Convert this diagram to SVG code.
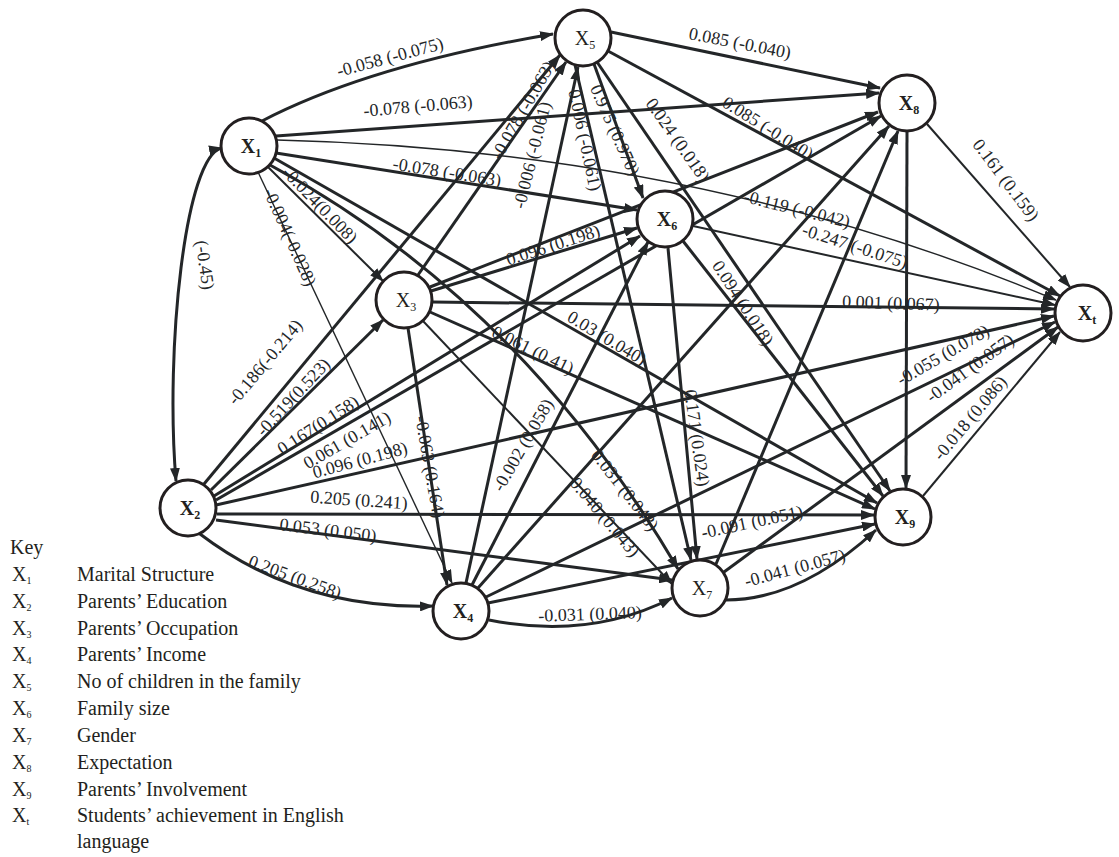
<svg xmlns="http://www.w3.org/2000/svg" width="1119" height="857" viewBox="0 0 1119 857">
<style>
.e{fill:none;stroke:#232628;stroke-width:3;marker-end:url(#ah)}
.t{stroke-width:1.4}
.m{stroke-width:2}
.lbl{font-family:"Liberation Serif",serif;font-size:18px;fill:#232628;text-anchor:middle;dominant-baseline:central}
.node circle{fill:#fff;stroke:#231f20;stroke-width:3}
.nl{font-family:"Liberation Serif",serif;font-size:20px;fill:#231f20;text-anchor:middle}
.b{font-weight:bold}
.key{font-family:"Liberation Serif",serif;font-size:20px;fill:#231f20}
</style>
<defs>
<marker id="ah" viewBox="0 0 14 10" refX="13" refY="5" markerWidth="14" markerHeight="10" markerUnits="userSpaceOnUse" orient="auto-start-reverse">
<path d="M0,0 L14,5 L0,10 z" fill="#232628"/>
</marker>
</defs>
<rect width="1119" height="857" fill="#fff"/>
<g id="connectors">
<path class="e" d="M262,121 Q370,65 553,34"/>
<path class="e" d="M276,136 L879,93"/>
<path class="e t" d="M277,140 Q700,150 1056,300"/>
<path class="e" d="M276,153 L637,210"/>
<path class="e" d="M274,158 L877,503"/>
<path class="e" d="M270,165 Q520,300 678,569"/>
<path class="e m" d="M267,166 L383,281"/>
<path class="e t" d="M258,172 L452,583"/>
<path class="e" d="M222,148 C185,155 165,350 176,481" marker-start="url(#ah)"/>
<path class="e" d="M204,484 L560,55"/>
<path class="e" d="M211,490 L383,320"/>
<path class="e" d="M214,496 L640,236"/>
<path class="e" d="M216,500 L881,116"/>
<path class="e" d="M216,505 L1054,316"/>
<path class="e" d="M217,514 L874,515"/>
<path class="e" d="M216,520 L672,580"/>
<path class="e" d="M200,534 Q300,610 433,606"/>
<path class="e" d="M418,275 L566,62"/>
<path class="e" d="M430,287 L878,112"/>
<path class="e" d="M431,291 L637,228"/>
<path class="e" d="M432,302 L1054,309"/>
<path class="e" d="M430,312 L875,509"/>
<path class="e m" d="M423,321 L672,584"/>
<path class="e" d="M408,328 L447,585"/>
<path class="e" d="M466,583 L578,67"/>
<path class="e" d="M472,585 L648,242"/>
<path class="e" d="M478,588 L889,126"/>
<path class="e" d="M486,597 L1055,322"/>
<path class="e" d="M488,603 L875,524"/>
<path class="e" d="M489,620 Q590,640 672,598"/>
<path class="e" d="M611,32 L880,88"/>
<path class="e" d="M608,51 L1060,296"/>
<path class="e" d="M594,64 L643,198"/>
<path class="e" d="M575,65 L691,560"/>
<path class="e" d="M597,62 L890,491"/>
<path class="e m" d="M693,226 L1055,305"/>
<path class="e" d="M683,241 L883,496"/>
<path class="e" d="M668,248 L697,559"/>
<path class="e" d="M716,564 L898,131"/>
<path class="e" d="M724,572 L1058,327"/>
<path class="e" d="M726,600 Q800,600 876,530"/>
<path class="e m" d="M927,124 L1070,287"/>
<path class="e" d="M907,132 L906,488"/>
<path class="e m" d="M923,496 L1060,332"/>
</g>
<g id="edge-labels" class="lbl">
<text transform="translate(390,57) rotate(-15)">-0.058 (-0.075)</text>
<text transform="translate(418,106) rotate(-5)">-0.078 (-0.063)</text>
<text transform="translate(447,172) rotate(9)">-0.078 (-0.063)</text>
<text transform="translate(320,205) rotate(46)">-0.024(0.008)</text>
<text transform="translate(290,237) rotate(66)">-0.004(-0.028)</text>
<text transform="translate(205,265) rotate(82)">(-0.45)</text>
<text transform="translate(265,362) rotate(-50)">-0.186(-0.214)</text>
<text transform="translate(293,397) rotate(-47)">-0.519(0.523)</text>
<text transform="translate(318,425) rotate(-33)">0.167(0.158)</text>
<text transform="translate(347,440) rotate(-30)">0.061 (0.141)</text>
<text transform="translate(360,460) rotate(-15)">0.096 (0.198)</text>
<text transform="translate(359,500) rotate(4)">0.205 (0.241)</text>
<text transform="translate(328,530) rotate(7)">0.053 (0.050)</text>
<text transform="translate(295,577) rotate(20)">0.205 (0.258)</text>
<text transform="translate(523,110) rotate(-60)">-0.078 (-0.063)</text>
<text transform="translate(532,155) rotate(-76)">-0.006 (-0.061)</text>
<text transform="translate(585,140) rotate(78)">0.006 (-0.061)</text>
<text transform="translate(615,130) rotate(66)">0.975 (0.970)</text>
<text transform="translate(678,140) rotate(55)">0.024 (0.018)</text>
<text transform="translate(740,43) rotate(11)">0.085 (-0.040)</text>
<text transform="translate(768,128) rotate(32)">0.085 (-0.040)</text>
<text transform="translate(797,209) rotate(14)">-0.119 (-0.042)</text>
<text transform="translate(855,246) rotate(18)">-0.247 (-0.075)</text>
<text transform="translate(891,303) rotate(2)">0.001 (0.067)</text>
<text transform="translate(743,303) rotate(57)">0.094 (0.018)</text>
<text transform="translate(697,438) rotate(82)">0.171 (0.024)</text>
<text transform="translate(607,338) rotate(31)">0.03  (0.040)</text>
<text transform="translate(533,350) rotate(26)">0.061 (0.41)</text>
<text transform="translate(553,245) rotate(-18)">0.096 (0.198)</text>
<text transform="translate(430,467) rotate(80)">-0.063 (0.164)</text>
<text transform="translate(523,445) rotate(-60)">-0.002 (0.058)</text>
<text transform="translate(625,490) rotate(52)">0.031 (0.048)</text>
<text transform="translate(605,517) rotate(50)">0.040 (0.043)</text>
<text transform="translate(590,614) rotate(-2)">-0.031 (0.040)</text>
<text transform="translate(752,522) rotate(-12)">-0.091 (0.051)</text>
<text transform="translate(795,568) rotate(-15)">-0.041 (0.057)</text>
<text transform="translate(943,355) rotate(-30)">-0.055 (0.078)</text>
<text transform="translate(970,368) rotate(-36)">-0.041 (0.057)</text>
<text transform="translate(970,418) rotate(-50)">-0.018 (0.086)</text>
<text transform="translate(1006,180) rotate(53)">0.161 (0.159)</text>
</g>
<g id="X1" class="node"><circle cx="249" cy="146" r="28"/><text class="nl b" x="251" y="153">X<tspan font-size="12" dy="4">1</tspan></text></g>
<g id="X2" class="node"><circle cx="188" cy="508" r="28"/><text class="nl b" x="190" y="515">X<tspan font-size="12" dy="4">2</tspan></text></g>
<g id="X3" class="node"><circle cx="404" cy="300" r="28"/><text class="nl" x="406" y="307">X<tspan font-size="12" dy="4">3</tspan></text></g>
<g id="X4" class="node"><circle cx="461" cy="611" r="28"/><text class="nl b" x="463" y="618">X<tspan font-size="12" dy="4">4</tspan></text></g>
<g id="X5" class="node"><circle cx="583" cy="38" r="28"/><text class="nl" x="585" y="45">X<tspan font-size="12" dy="4">5</tspan></text></g>
<g id="X6" class="node"><circle cx="665" cy="219" r="28"/><text class="nl b" x="667" y="226">X<tspan font-size="12" dy="4">6</tspan></text></g>
<g id="X7" class="node"><circle cx="700" cy="588" r="28"/><text class="nl" x="702" y="595">X<tspan font-size="12" dy="4">7</tspan></text></g>
<g id="X8" class="node"><circle cx="907" cy="103" r="28"/><text class="nl b" x="909" y="110">X<tspan font-size="12" dy="4">8</tspan></text></g>
<g id="X9" class="node"><circle cx="903" cy="517" r="28"/><text class="nl b" x="905" y="524">X<tspan font-size="12" dy="4">9</tspan></text></g>
<g id="Xt" class="node"><circle cx="1083" cy="313" r="28"/><text class="nl b" x="1087" y="320">X<tspan font-size="12" dy="4">t</tspan></text></g>
<g id="key" class="key">
<text x="10" y="554">Key</text>
<text x="12" y="581">X<tspan font-size="10" dy="3">1</tspan></text><text x="77" y="581">Marital Structure</text>
<text x="12" y="608">X<tspan font-size="10" dy="3">2</tspan></text><text x="77" y="608">Parents’ Education</text>
<text x="12" y="635">X<tspan font-size="10" dy="3">3</tspan></text><text x="77" y="635">Parents’ Occupation</text>
<text x="12" y="661">X<tspan font-size="10" dy="3">4</tspan></text><text x="77" y="661">Parents’ Income</text>
<text x="12" y="688">X<tspan font-size="10" dy="3">5</tspan></text><text x="77" y="688">No of children in the family</text>
<text x="12" y="715">X<tspan font-size="10" dy="3">6</tspan></text><text x="77" y="715">Family size</text>
<text x="12" y="742">X<tspan font-size="10" dy="3">7</tspan></text><text x="77" y="742">Gender</text>
<text x="12" y="769">X<tspan font-size="10" dy="3">8</tspan></text><text x="77" y="769">Expectation</text>
<text x="12" y="796">X<tspan font-size="10" dy="3">9</tspan></text><text x="77" y="796">Parents’ Involvement</text>
<text x="12" y="822">X<tspan font-size="10" dy="3">t</tspan></text><text x="77" y="822">Students’ achievement in English</text>
<text x="77" y="848">language</text>
</g>
</svg>
